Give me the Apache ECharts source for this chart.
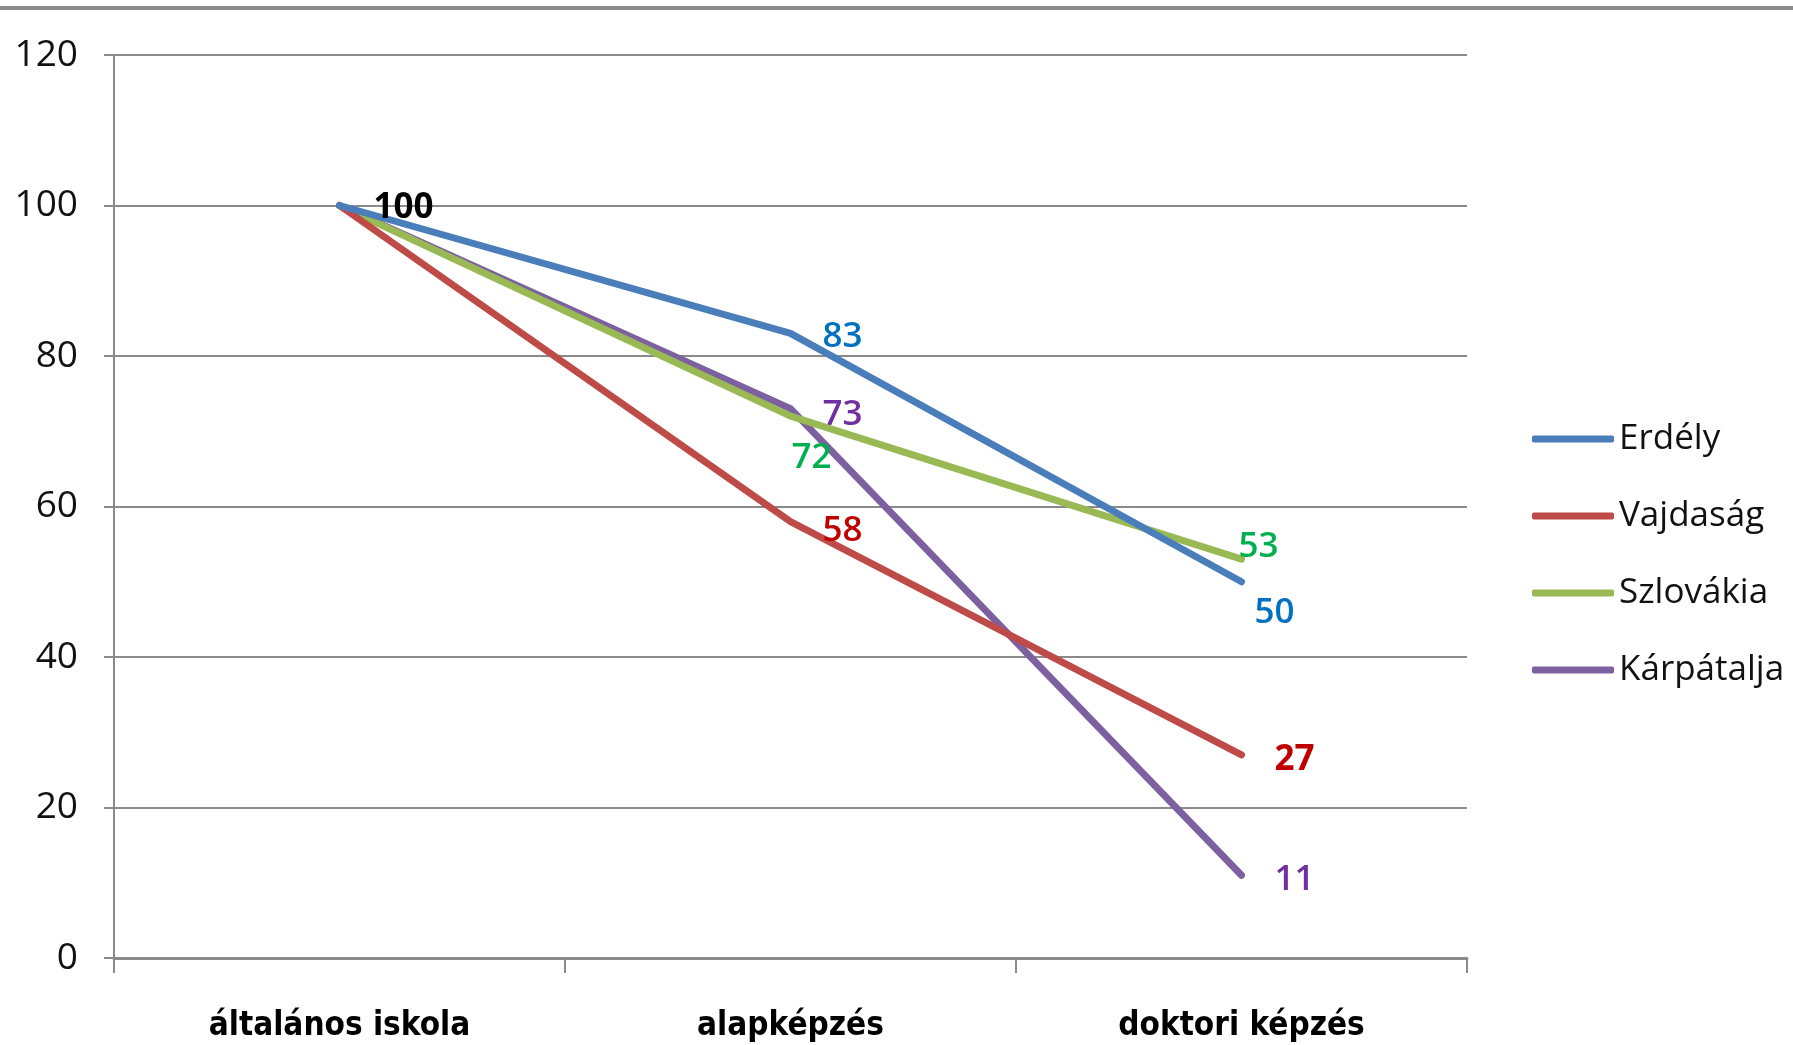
<!DOCTYPE html>
<html>
<head>
<meta charset="utf-8">
<script src="https://cdn.jsdelivr.net/npm/echarts@6/dist/echarts.min.js"></script>
<style>
  html, body { margin: 0; padding: 0; background: #fff; }
  #chart { width: 1793px; height: 1045px; }
</style>
</head>
<body>
<div id="chart"></div>
<script>
// data
var categories = ['általános iskola', 'alapképzés', 'doktori képzés']
var seriesNames = ['Erdély', 'Vajdaság', 'Szlovákia', 'Kárpátalja']
var erdely = [100, 83, 50]
var vajdasag = [100, 58, 27]
var szlovakia = [100, 72, 53]
var karpatalja = [100, 73, 11]
var yTicks = [0, 20, 40, 60, 80, 100, 120]

var lineColors = ['#4A7EBB', '#BE4B48', '#98B954', '#7D60A0']
var labelColors = ['#0070C0', '#C00000', '#00B050', '#7030A0']

// label placement per series and point: [dx, dy, bold, color] or null (no label)
var labelPlace = [
  [[34, 3, true, '#000'], [32, 4], [13, 31]],
  [null, [32, 9], [33, 5, true]],
  [null, [1, 42], [-3, -12]],
  [null, [32, 6], [33, 5]]
]

var labelFont = "'Open Sans', 'Liberation Sans', sans-serif"
var axisFont = "'Liberation Sans Narrow', 'DejaVu Sans Condensed', 'Open Sans', sans-serif"

function buildSeries(name, values, idx) {
  var data = values.map(function (v, i) {
    var p = labelPlace[idx][i]
    if (!p) return { value: v, label: { show: false } }
    return {
      value: v,
      label: {
        show: true,
        position: 'right',
        distance: 0,
        offset: [p[0], p[1]],
        color: p[3] || labelColors[idx],
        fontWeight: p[2] ? 'bold' : 600
      }
    }
  })
  return {
    name: name,
    type: 'line',
    data: data,
    symbol: 'circle',
    symbolSize: 0.1,
    showSymbol: true,
    itemStyle: { color: lineColors[idx] },
    lineStyle: { color: lineColors[idx], width: 7, cap: 'round', join: 'round' },
    label: {
      fontFamily: labelFont,
      fontSize: 35
    },
    z: 10 - idx,
    animation: false
  }
}

var chart = echarts.init(document.getElementById('chart'))
chart.setOption({
  backgroundColor: '#fff',
  animation: false,
  graphic: [{
    type: 'rect',
    shape: { x: 0, y: 6, width: 1793, height: 4 },
    style: { fill: '#8c8c8c' }
  }],
  grid: {
    left: 114,
    right: 326,
    top: 55,
    bottom: 87
  },
  legend: {
    orient: 'vertical',
    left: 1527,
    top: 414,
    itemWidth: 82,
    itemHeight: 7,
    itemGap: 37,
    icon: 'roundRect',
    data: seriesNames,
    textStyle: {
      fontFamily: labelFont,
      fontSize: 35,
      color: '#111',
      lineHeight: 40,
      padding: [0, 0, 0, 0]
    }
  },
  xAxis: {
    type: 'category',
    data: categories,
    boundaryGap: true,
    axisLine: { lineStyle: { color: '#8a8a8a', width: 3 } },
    axisTick: { show: true, length: 15, lineStyle: { color: '#8a8a8a', width: 2 } },
    axisLabel: {
      margin: 52,
      color: '#000',
      fontFamily: axisFont,
      fontWeight: 'bold',
      fontSize: 33
    }
  },
  yAxis: {
    type: 'value',
    min: yTicks[0],
    max: yTicks[yTicks.length - 1],
    interval: yTicks[1] - yTicks[0],
    axisLine: { show: true, lineStyle: { color: '#8a8a8a', width: 2 } },
    axisTick: { show: true, length: 10, lineStyle: { color: '#8a8a8a', width: 2 } },
    splitLine: { lineStyle: { color: '#8a8a8a', width: 2 } },
    axisLabel: {
      margin: 36,
      color: '#111',
      fontFamily: labelFont,
      fontSize: 37
    }
  },
  series: [
    buildSeries(seriesNames[0], erdely, 0),
    buildSeries(seriesNames[1], vajdasag, 1),
    buildSeries(seriesNames[2], szlovakia, 2),
    buildSeries(seriesNames[3], karpatalja, 3)
  ]
})
</script>
</body>
</html>
